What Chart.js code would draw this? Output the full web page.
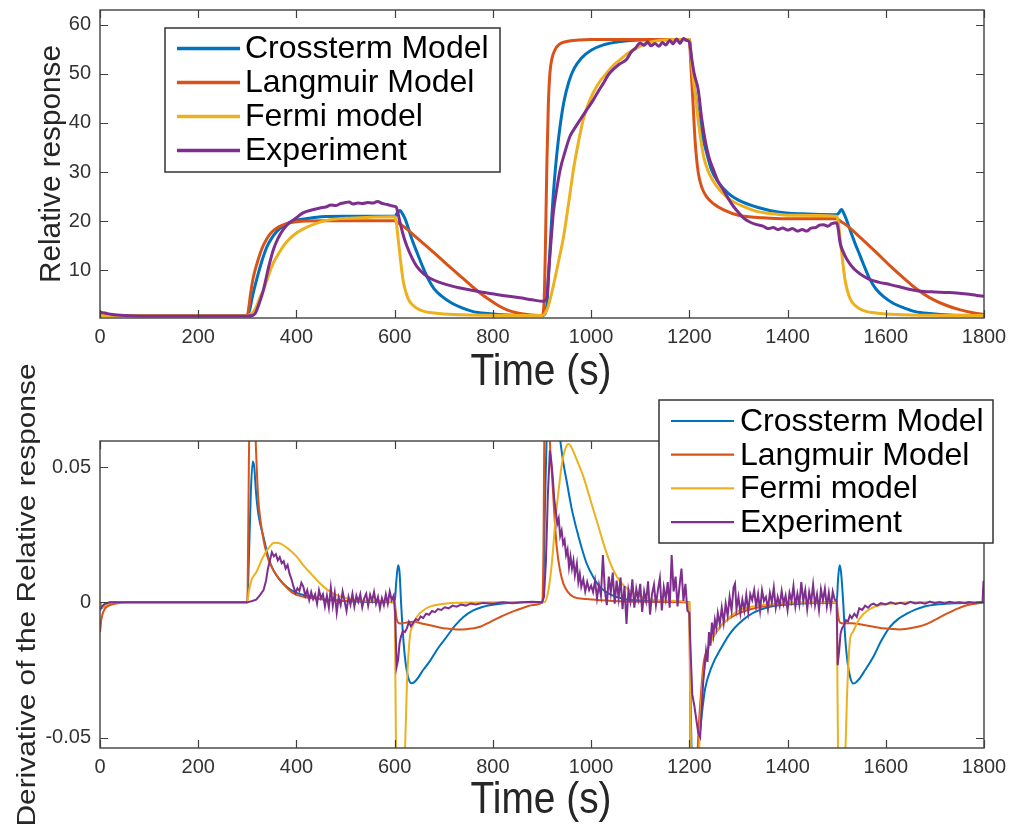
<!DOCTYPE html>
<html>
<head>
<meta charset="utf-8">
<title>Relative response and its derivative</title>
<script src="https://cdn.jsdelivr.net/npm/chart.js@4.4.1/dist/chart.umd.min.js"></script>
<style>
  html, body { margin: 0; padding: 0; background: #fff; }
  #wrap { position: relative; width: 1010px; height: 828px; overflow: hidden; background: #fff; }
  canvas { position: absolute; left: 0; display: block; }
  #c1 { top: 0; }
  #c2 { top: 355px; }
</style>
</head>
<body>
<div id="wrap">
  <canvas id="c1" width="1010" height="410"></canvas>
  <canvas id="c2" width="1010" height="473"></canvas>
</div>
<script>
// ---- series names and colours ----
const seriesNames = ['Crossterm Model', 'Langmuir Model', 'Fermi model', 'Experiment'];
const seriesColors = ['#0072BD', '#D95319', '#EDB120', '#7E2F8E'];

// ---- tick values / labels ----
const timeTicks = [0, 200, 400, 600, 800, 1000, 1200, 1400, 1600, 1800];
const relTicks = [10, 20, 30, 40, 50, 60];
const derTicks = [-0.05, 0, 0.05];
const derTickLabels = ['-0.05', '0', '0.05'];

// ---- relative response, [time s, response] ----
const crossRel = [[0,0.9],[50,0.8],[300,0.8],[305,2],[310,4.5],[320,8.5],[330,12],[340,14.8],[350,16.6],[360,17.9],[370,18.8],[385,19.7],[400,20.2],[425,20.6],[450,20.9],[500,21],[600,21],[605,21.6],[611,22.2],[617,21.3],[622,20.3],[628,18.5],[637,15.8],[648,13],[658,10.5],[668,8.3],[680,6.3],[695,4.8],[715,3.4],[736,2.4],[760,1.6],[790,1.2],[830,0.9],[900,0.8],[905,1.0],[910,3],[915,12],[920,21],[925,28],[930,33.5],[937,39.5],[945,44.5],[955,48.5],[965,51],[980,53.2],[1000,54.8],[1025,55.9],[1060,56.6],[1100,56.9],[1200,57],[1203,54],[1208,49],[1215,44],[1225,38],[1235,34],[1245,30.5],[1260,27.8],[1280,25.6],[1300,24.3],[1340,22.8],[1380,21.9],[1430,21.5],[1500,21.3],[1505,21.8],[1510,22.4],[1515,21.5],[1520,20.3],[1527,18.3],[1537,15.6],[1548,12.9],[1558,10.4],[1568,8.1],[1580,6.2],[1595,4.7],[1615,3.3],[1636,2.4],[1660,1.6],[1690,1.2],[1730,0.9],[1800,0.8]];

const langRel = [[0,1.2],[10,0.9],[30,0.8],[300,0.8],[303,2.5],[307,5.5],[312,8.5],[320,11.5],[330,14.5],[340,16.5],[350,17.8],[365,18.9],[380,19.5],[400,19.9],[450,20.1],[600,20.1],[605,19.8],[620,18.8],[650,16.2],[680,13.6],[700,11.8],[733,8.9],[750,7.4],[770,5.7],[790,4.2],[810,2.9],[830,1.9],[850,1.3],[870,1.0],[900,0.8],[904,3],[907,15],[910,32],[913,44],[916,50],[920,53],[927,55],[935,56],[950,56.6],[975,56.9],[1000,57],[1200,57],[1203,52],[1207,45],[1212,36],[1218,30],[1225,27],[1235,25],[1250,23.5],[1270,22.3],[1300,21.2],[1350,20.7],[1400,20.5],[1500,20.5],[1505,20.2],[1520,19.2],[1550,16.5],[1580,13.7],[1610,10.8],[1640,8.1],[1660,6.4],[1690,4.4],[1720,3.0],[1750,2.0],[1780,1.3],[1800,1.0]];

const fermiRel = [[0,0.8],[300,0.8],[305,1.0],[310,1.3],[318,2.5],[325,4.3],[333,6.1],[343,8.9],[353,11.5],[363,13.3],[373,14.9],[386,16.4],[400,17.6],[417,18.6],[434,19.3],[450,19.9],[468,20.3],[500,20.6],[550,20.8],[600,20.9],[603,20],[607,16.5],[611,12.9],[615,9.5],[618,7.5],[623,5.5],[628,4.1],[636,3.0],[645,2.3],[658,1.7],[672,1.4],[700,1.1],[750,0.9],[900,0.8],[905,1.1],[912,2.5],[923,6.8],[933,11.5],[944,16.9],[954,23.5],[964,30.5],[974,36],[984,40.7],[994,43.8],[1004,46.1],[1018,48.5],[1032,50.2],[1045,51.7],[1059,52.9],[1075,54.2],[1093,55.3],[1110,56.1],[1127,56.6],[1150,56.9],[1200,57],[1204,53],[1208,49],[1213,45],[1220,39],[1229,33.2],[1240,29.8],[1256,27.1],[1270,25.5],[1283,24.4],[1310,23],[1337,22],[1370,21.5],[1405,21.2],[1500,21.0],[1503,20],[1507,16.5],[1511,12.9],[1515,9.5],[1518,7.5],[1523,5.5],[1528,4.1],[1536,3.0],[1545,2.3],[1558,1.7],[1572,1.4],[1600,1.1],[1650,0.9],[1800,0.8]];

const expRel = [[0,1.5],[10,1.3],[25,1.0],[50,0.8],[100,0.7],[300,0.7],[310,0.8],[316,1.2],[325,3.5],[333,6.1],[343,10.5],[353,14.2],[363,16.6],[373,18.3],[386,19.7],[400,20.7],[410,21.5],[421,22],[435,22.4],[448,22.7],[460,22.9],[470,23.3],[480,23.2],[490,23.6],[500,23.8],[507,23.9],[515,23.5],[525,23.7],[535,23.6],[545,23.8],[555,23.7],[565,24.0],[575,23.6],[585,23.4],[595,23.1],[603,22.9],[607,21.5],[611,19.7],[618,17],[625,14.9],[635,12.6],[645,10.8],[658,9.4],[672,8.4],[690,7.6],[706,7.1],[733,6.4],[760,5.9],[788,5.4],[820,4.9],[855,4.4],[880,4.0],[903,3.7],[907,4.0],[910,4.7],[913,9],[916.5,13.5],[920,18],[923,21.7],[930,26.5],[937,30.5],[947,34.2],[957,37.3],[967,39],[978,40.7],[990,42.5],[1004.5,44.7],[1015,46.5],[1025,48.1],[1035,49.8],[1045,50.9],[1058,52.0],[1072,52.9],[1082,54.5],[1090,55.2],[1100,56.3],[1108,55.8],[1115,56.5],[1122,55.7],[1130,56.2],[1138,55.6],[1145,56.4],[1152,55.9],[1160,56.8],[1167,56.1],[1174,57.1],[1181,56.2],[1188,57.2],[1195,56.8],[1200,56.5],[1205,53],[1210,50],[1218,46.8],[1225,41],[1232,36.6],[1240,33],[1249,30.5],[1258,28.2],[1269,26.4],[1280,24.5],[1290,23],[1300,21.8],[1310,20.7],[1322,19.9],[1337,19.3],[1350,19.0],[1360,18.5],[1371,18.7],[1380,18.3],[1390,18.6],[1400,18.2],[1410,18.5],[1420,18.0],[1430,18.3],[1439,18.0],[1448,18.6],[1457,18.7],[1465,19.2],[1473,19.3],[1482,19.0],[1490,19.5],[1500,19.7],[1503,18.5],[1507,15.6],[1514,13.6],[1521,12.2],[1531,10.8],[1541,9.8],[1555,8.8],[1568,8.1],[1585,7.6],[1609,7.1],[1630,6.6],[1650,6.1],[1677,5.7],[1700,5.6],[1720,5.5],[1744,5.4],[1765,5.2],[1785,4.9],[1800,4.7]];

// ---- derivative of the relative response, [time s, value] ----
const crossDer = [[0,0],[5,-0.002],[15,-0.0005],[30,0],[300,0],[303,0.015],[307,0.04],[311,0.052],[314,0.05],[318,0.04],[323,0.032],[333,0.0241],[343,0.0165],[353,0.0119],[365,0.0085],[380,0.0058],[395,0.004],[414,0.0027],[450,0.0012],[500,0.0005],[600,0],[603,0.007],[607,0.0137],[610,0.011],[613,0.0],[617,-0.012],[622,-0.022],[628,-0.028],[635,-0.0299],[645,-0.0285],[658,-0.025],[672,-0.0216],[690,-0.0165],[706,-0.0127],[722,-0.0088],[740,-0.0054],[760,-0.003],[780,-0.0016],[820,-0.0004],[860,0],[902,0],[906,0.035],[910,0.065],[918,0.085],[928,0.073],[937,0.06],[943,0.052],[950,0.045],[960,0.035],[971,0.0266],[981,0.02],[991,0.0143],[1004,0.0095],[1018,0.0057],[1035,0.0033],[1052,0.002],[1075,0.001],[1100,0.0007],[1150,0.0002],[1200,0],[1203,-0.04],[1207,-0.07],[1212,-0.075],[1218,-0.055],[1225,-0.042],[1232,-0.032],[1245,-0.024],[1266,-0.0165],[1285,-0.011],[1300,-0.008],[1320,-0.005],[1334,-0.0035],[1360,-0.0018],[1400,-0.0008],[1450,-0.0002],[1500,0],[1503,0.009],[1506,0.0137],[1509,0.011],[1513,0.001],[1517,-0.012],[1522,-0.022],[1528,-0.028],[1534,-0.030],[1545,-0.0285],[1558,-0.025],[1575,-0.02],[1590,-0.0145],[1609,-0.009],[1625,-0.0062],[1643,-0.0042],[1660,-0.0027],[1677,-0.0016],[1710,-0.0007],[1750,-0.0003],[1800,0]];

const langDer = [[0,-0.011],[3,-0.006],[8,-0.003],[15,-0.0015],[30,-0.0005],[60,0],[300,0],[302,0.03],[305,0.08],[312,0.09],[316,0.065],[322,0.0389],[327,0.03],[333,0.023],[340,0.0175],[346,0.0144],[356,0.011],[367,0.0082],[380,0.0055],[394,0.0033],[415,0.002],[435,0.0015],[470,0.0008],[503,0.0005],[600,0],[603,-0.005],[607,-0.0075],[611,-0.0078],[625,-0.0074],[638,-0.0072],[660,-0.008],[685,-0.009],[705,-0.0097],[726,-0.01],[750,-0.0098],[774,-0.009],[795,-0.0072],[815,-0.0054],[835,-0.0038],[848,-0.0029],[865,-0.0018],[882,-0.001],[900,0],[903,0.02],[906,0.09],[911,0.1],[916,0.06],[920,0.048],[923,0.039],[926,0.03],[930,0.0205],[936,0.0125],[943.5,0.0069],[953,0.0038],[964,0.002],[990,0.0012],[1018,0.0008],[1100,0.0002],[1200,0],[1202,-0.05],[1205,-0.09],[1212,-0.08],[1218,-0.05],[1222,-0.038],[1229,-0.0226],[1238,-0.017],[1249,-0.0127],[1262,-0.0092],[1276,-0.0066],[1295,-0.0045],[1317,-0.0029],[1350,-0.0015],[1400,-0.0005],[1500,0],[1503,-0.005],[1507,-0.0075],[1514,-0.0078],[1530,-0.0077],[1550,-0.0082],[1575,-0.009],[1600,-0.0097],[1629,-0.01],[1655,-0.0094],[1677,-0.0084],[1700,-0.0065],[1724,-0.0042],[1745,-0.0024],[1765,-0.0011],[1785,-0.0004],[1800,0]];

const fermiDer = [[0,0],[5,-0.0018],[12,-0.0008],[25,0],[300,0],[303,0.004],[309,0.0085],[318,0.011],[330,0.016],[343,0.02],[355,0.022],[370,0.0215],[385,0.0195],[400,0.017],[415,0.0135],[430,0.0105],[445,0.0075],[462,0.0048],[480,0.0028],[502,0.0015],[530,0.0007],[600,0],[602,-0.04],[605,-0.09],[612,-0.11],[618,-0.08],[621,-0.055],[625,-0.03],[631,-0.0127],[638,-0.0082],[645,-0.0054],[658,-0.003],[672,-0.0016],[706,-0.0004],[800,0],[905,0],[912,0.0035],[918,0.011],[923,0.0205],[927,0.03],[933,0.04],[940,0.0505],[947,0.0565],[954,0.0585],[962,0.0565],[970,0.053],[985,0.046],[1000,0.037],[1015,0.028],[1030,0.019],[1045,0.012],[1060,0.0075],[1080,0.0042],[1100,0.0022],[1150,0.0007],[1200,0],[1202,-0.04],[1206,-0.09],[1212,-0.1],[1219,-0.06],[1222,-0.045],[1228,-0.028],[1235,-0.02],[1242,-0.0152],[1255,-0.0108],[1269,-0.0079],[1285,-0.005],[1303,-0.0029],[1330,-0.0015],[1370,-0.0006],[1420,0],[1500,0],[1502,-0.04],[1505,-0.09],[1511,-0.11],[1517,-0.06],[1521,-0.035],[1527,-0.014],[1533,-0.011],[1538,-0.009],[1545,-0.0065],[1555,-0.0042],[1570,-0.0022],[1589,-0.001],[1620,-0.0003],[1650,0],[1800,0]];

const expDer = [[0,-0.003],[4,-0.0015],[10,-0.0005],[20,0],[300,0],[310,0.0005],[318,0.001],[325,0.0025],[333,0.0045],[338,0.008],[342,0.0125],[346,0.0155],[350,0.0185],[354,0.017],[358,0.0178],[362,0.0155],[366,0.0167],[370,0.0145],[374,0.0152],[378,0.0125],[382,0.0138],[386,0.0105],[390,0.0085],[394,0.0058],[398,0.0035],[402,0.0052],[406,0.0042],[410,0.0072],[414,0.0058],[418,0.0025],[422,0.0045],[426,0.0008],[430,0.0038],[434,0.0012],[438,0.0030],[442,-0.0005],[446,0.0045],[450,0.0015],[454,0.003],[458,-0.0015],[462,0.0025],[466,-0.002],[470,0.0055],[474,-0.0012],[478,0.0035],[482,-0.0038],[486,0.0018],[490,-0.001],[494,0.004],[498,0.0005],[502,-0.0032],[506,0.002],[510,-0.0008],[514,0.0032],[518,-0.0015],[522,0.0025],[526,0.0002],[530,0.003],[534,-0.0018],[538,0.0015],[542,0.0032],[546,-0.0012],[550,0.0028],[554,0.0005],[558,0.0038],[562,-0.0005],[566,0.002],[570,-0.0022],[574,0.0015],[578,-0.001],[582,0.003],[586,-0.0005],[590,0.004],[594,0.0008],[598,0.0025],[601,-0.004],[604,-0.0238],[607,-0.0213],[610,-0.015],[613,-0.0125],[617,-0.0105],[621,-0.011],[625,-0.0095],[629,-0.0072],[633,-0.0088],[638,-0.0075],[643,-0.0062],[648,-0.0066],[653,-0.0052],[658,-0.0058],[664,-0.0042],[670,-0.0046],[676,-0.0032],[682,-0.0036],[688,-0.0025],[695,-0.0028],[702,-0.0018],[710,-0.0022],[718,-0.0012],[726,-0.0016],[735,-0.0008],[745,-0.0012],[755,-0.0004],[765,-0.0008],[780,-0.0002],[800,-0.0005],[820,0],[840,-0.0003],[860,0],[880,0.0002],[900,0],[904,0.002],[908,0.015],[912,0.04],[916,0.0561],[919,0.052],[922,0.046],[925,0.038],[928,0.034],[931,0.029],[934,0.031],[937,0.0245],[940,0.0265],[943,0.0216],[946,0.023],[949,0.0175],[952,0.0195],[955,0.013],[958,0.017],[961,0.0125],[964,0.0155],[967,0.01],[971,0.0143],[974,0.0075],[977,0.0105],[980,0.0058],[984,0.0085],[988,0.004],[992,0.0075],[996,0.0045],[1000,0.0062],[1004,0.0038],[1008,0.008],[1012,0.0015],[1016,0.0065],[1020,0.0025],[1024,0.0175],[1028,0.0045],[1032,-0.001],[1036,0.0095],[1040,0.0035],[1044,0.011],[1048,-0.0005],[1052,0.008],[1056,0.0015],[1060,0.0092],[1064,-0.0025],[1068,0.006],[1072,-0.008],[1076,0.0045],[1080,0.0005],[1084,0.0085],[1088,-0.002],[1092,0.005],[1096,0.0012],[1100,0.0068],[1104,-0.0035],[1108,0.004],[1112,0.0005],[1116,0.0078],[1120,-0.0045],[1124,0.003],[1128,0.0065],[1132,-0.001],[1136,0.0045],[1140,0.009],[1144,-0.003],[1148,0.0055],[1152,0.0012],[1156,0.0075],[1160,-0.002],[1164,0.0175],[1168,0.004],[1172,0.0095],[1176,-0.0015],[1180,0.006],[1184,0.0125],[1188,0.0005],[1192,0.0068],[1196,-0.003],[1200,-0.004],[1203,-0.02],[1206,-0.034],[1210,-0.038],[1214,-0.043],[1218,-0.048],[1222,-0.0497],[1225,-0.04],[1228,-0.03],[1231,-0.024],[1234,-0.018],[1237,-0.022],[1240,-0.011],[1243,-0.016],[1246,-0.0075],[1249,-0.012],[1252,-0.0065],[1255,-0.0095],[1258,-0.004],[1262,-0.008],[1266,-0.002],[1270,-0.0075],[1274,-0.0005],[1278,-0.005],[1282,0.002],[1286,-0.003],[1290,0.0055],[1293,0.0069],[1296,-0.0025],[1300,0.002],[1304,-0.004],[1308,0.001],[1312,-0.003],[1316,0.0028],[1320,-0.0035],[1324,0.003],[1328,0.0008],[1332,0.0045],[1336,-0.0015],[1340,0.003],[1344,-0.003],[1348,0.0045],[1352,0.0005],[1356,0.002],[1360,-0.0025],[1364,0.0035],[1368,0.0],[1372,0.0055],[1376,-0.002],[1380,0.002],[1384,-0.0012],[1388,0.0042],[1392,-0.0005],[1396,0.0025],[1400,-0.0028],[1404,0.0035],[1408,0.0005],[1412,0.006],[1416,-0.0015],[1420,0.0032],[1424,-0.0008],[1428,0.0075],[1432,0.0005],[1436,0.0045],[1440,-0.0025],[1444,0.0038],[1448,0.0],[1452,0.0065],[1456,-0.001],[1460,0.003],[1464,-0.0028],[1468,0.0048],[1472,0.0008],[1476,0.005],[1480,-0.0015],[1484,0.0035],[1488,-0.002],[1492,0.004],[1496,0.001],[1500,0.0005],[1502,-0.0232],[1505,-0.018],[1508,-0.0115],[1511,-0.0095],[1515,-0.0085],[1519,-0.0066],[1523,-0.007],[1527,-0.0048],[1531,-0.0058],[1536,-0.0042],[1541,-0.0054],[1546,-0.0022],[1552,-0.0028],[1558,-0.0012],[1564,-0.002],[1570,-0.0008],[1575,-0.0005],[1582,-0.0012],[1590,-0.0003],[1600,-0.0008],[1610,0],[1620,-0.0006],[1630,-0.0002],[1640,-0.0007],[1650,0.0002],[1660,-0.0004],[1670,-0.0001],[1680,-0.0005],[1690,0.0003],[1700,-0.0003],[1710,0.0001],[1720,-0.0004],[1730,0.0002],[1740,-0.0002],[1750,0],[1760,-0.0003],[1770,0.0001],[1780,-0.0002],[1790,0],[1797,0],[1799,0.008]];

// ---- drawing helpers ----
const FONT = '"Liberation Sans", Arial, Helvetica, sans-serif';
Chart.defaults.font.family = FONT;

const toXY = arr => arr.map(([x, y]) => ({ x, y }));

function makeDatasets(series, width, noisyLast) {
  return series.map((arr, i) => ({
    label: seriesNames[i],
    data: toXY(arr),
    borderColor: seriesColors[i],
    backgroundColor: seriesColors[i],
    borderWidth: width,
    pointRadius: 0,
    fill: false,
    order: series.length - i,
    cubicInterpolationMode: (noisyLast && i === series.length - 1) ? 'default' : 'monotone',
    tension: 0
  }));
}

function makeScales(yMin, yMax, yTickVals, yLabel, xBoxHeight) {
  return {
    x: {
      type: 'linear', min: 0, max: 1800, bounds: 'data',
      afterBuildTicks: s => { s.ticks = timeTicks.map(v => ({ value: v })); },
      afterFit: s => { s.height = xBoxHeight; s.paddingLeft = 0; s.paddingRight = 0; },
      grid: { display: false, drawTicks: false },
      border: { display: false },
      ticks: { font: { size: 20 }, color: '#333', padding: 7, maxRotation: 0, autoSkip: false,
               callback: (v) => String(v) }
    },
    y: {
      type: 'linear', min: yMin, max: yMax, bounds: 'data',
      afterBuildTicks: s => { s.ticks = yTickVals.map(v => ({ value: v })); },
      afterFit: s => { s.width = 100; s.paddingTop = 0; s.paddingBottom = 0; },
      grid: { display: false, drawTicks: false },
      border: { display: false },
      ticks: { font: { size: 20 }, color: '#333', padding: 9, autoSkip: false,
               callback: (v, i) => yLabel(v, i) }
    }
  };
}

// axes box with inward tick marks on all four sides
const frameTicks = {
  id: 'frameTicks',
  afterDatasetsDraw(chart) {
    const { ctx, chartArea: a, scales } = chart;
    const len = 8;
    ctx.save();
    ctx.strokeStyle = '#404040';
    ctx.lineWidth = 1.2;
    ctx.beginPath();
    scales.x.ticks.forEach(t => {
      const p = Math.round(scales.x.getPixelForValue(t.value)) + 0.5;
      ctx.moveTo(p, a.bottom); ctx.lineTo(p, a.bottom - len);
      ctx.moveTo(p, a.top); ctx.lineTo(p, a.top + len);
    });
    scales.y.ticks.forEach(t => {
      const p = Math.round(scales.y.getPixelForValue(t.value)) + 0.5;
      ctx.moveTo(a.left, p); ctx.lineTo(a.left + len, p);
      ctx.moveTo(a.right, p); ctx.lineTo(a.right - len, p);
    });
    ctx.stroke();
    ctx.lineWidth = 1.4;
    ctx.strokeRect(a.left, a.top, a.right - a.left, a.bottom - a.top);
    ctx.restore();
  }
};

// legend box built from the chart's own datasets
const boxLegend = {
  id: 'boxLegend',
  afterDraw(chart, args, o) {
    if (!o || !o.box) return;
    const ctx = chart.ctx;
    const ds = chart.data.datasets;
    ctx.save();
    ctx.fillStyle = '#fff';
    ctx.fillRect(o.box[0], o.box[1], o.box[2], o.box[3]);
    ctx.strokeStyle = '#333';
    ctx.lineWidth = 1.5;
    ctx.strokeRect(o.box[0], o.box[1], o.box[2], o.box[3]);
    ctx.font = o.fontSize + 'px ' + FONT;
    ctx.textBaseline = 'middle';
    ctx.textAlign = 'left';
    ds.forEach((d, i) => {
      const y = o.rowTop + i * o.rowGap;
      ctx.strokeStyle = d.borderColor;
      ctx.lineWidth = o.lineWidth;
      ctx.beginPath();
      ctx.moveTo(o.lineX[0], y); ctx.lineTo(o.lineX[1], y);
      ctx.stroke();
      ctx.fillStyle = '#000';
      ctx.fillText(d.label, o.textX, y + 1);
    });
    ctx.restore();
  }
};

// axis titles, each stretched along its run to a given length
const axisTitles = {
  id: 'axisTitles',
  afterDraw(chart, args, o) {
    if (!o || !o.items) return;
    const ctx = chart.ctx;
    o.items.forEach(it => {
      ctx.save();
      ctx.font = it.size + 'px ' + FONT;
      ctx.fillStyle = '#262626';
      ctx.textAlign = 'center';
      ctx.textBaseline = 'alphabetic';
      const w = ctx.measureText(it.text).width;
      ctx.translate(it.x, it.y);
      ctx.rotate(it.rot);
      ctx.scale(it.len / w, 1);
      ctx.fillText(it.text, 0, 0);
      ctx.restore();
    });
  }
};

const common = {
  type: 'line',
  plugins: [frameTicks, boxLegend, axisTitles]
};

// upper panel: relative response
new Chart(document.getElementById('c1'), {
  ...common,
  data: { datasets: makeDatasets([crossRel, langRel, fermiRel, expRel], 3, false) },
  options: {
    responsive: false, animation: false, events: [],
    layout: { padding: { top: 10, right: 26, left: 0, bottom: 0 } },
    scales: makeScales(0.3, 63, relTicks, v => String(v), 92),
    plugins: {
      legend: { display: false }, tooltip: { enabled: false },
      boxLegend: { box: [165, 28, 335, 144], lineX: [177, 240], textX: 245, rowTop: 48.5, rowGap: 34, fontSize: 32, lineWidth: 3.5 },
      axisTitles: { items: [
        { text: 'Time (s)', x: 541, y: 385, rot: 0, size: 44, len: 141 },
        { text: 'Relative response', x: 60, y: 164, rot: -Math.PI / 2, size: 29, len: 238 }
      ] }
    }
  }
});

// lower panel: derivative
new Chart(document.getElementById('c2'), {
  ...common,
  data: { datasets: makeDatasets([crossDer, langDer, fermiDer, expDer], 2, true) },
  options: {
    responsive: false, animation: false, events: [],
    layout: { padding: { top: 86, right: 26, left: 0, bottom: 0 } },
    scales: makeScales(-0.0538, 0.0596, derTicks, (v, i) => derTickLabels[i], 80),
    plugins: {
      legend: { display: false }, tooltip: { enabled: false },
      boxLegend: { box: [659, 45, 334, 143], lineX: [671, 734], textX: 740, rowTop: 66, rowGap: 33.7, fontSize: 32, lineWidth: 2.2 },
      axisTitles: { items: [
        { text: 'Time (s)', x: 541, y: 458, rot: 0, size: 44, len: 141 },
        { text: 'Derivative of the Relative response', x: 35, y: 240, rot: -Math.PI / 2, size: 26, len: 463 }
      ] }
    }
  }
});
</script>
</body>
</html>
